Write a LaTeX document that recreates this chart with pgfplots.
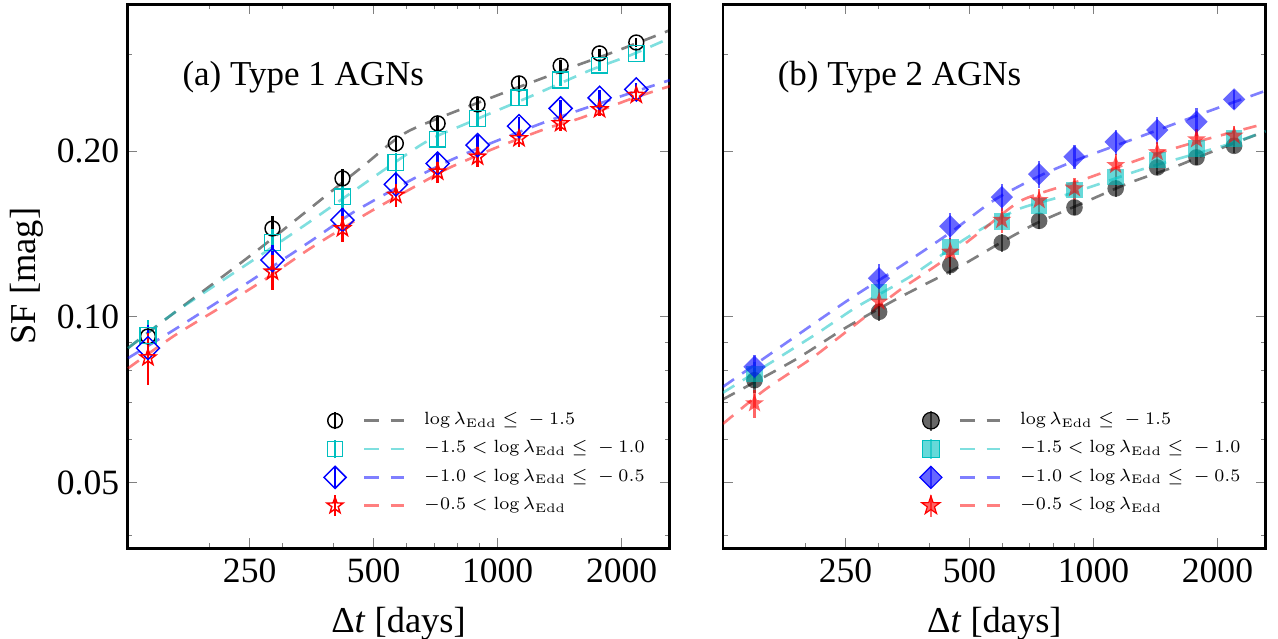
\documentclass[border=0pt]{standalone}
\usepackage{fix-cm}
\usepackage[no-math]{fontspec}
\setmainfont{Liberation Serif}
\usepackage{graphicx}
\usepackage{pgfplots}
\pgfplotsset{compat=1.18}

\definecolor{mcyan}{rgb}{0,0.75,0.75}

% five-pointed star like matplotlib's '*'
\pgfdeclareplotmark{fivestar}{%
  \pgfpathmoveto{\pgfqpointpolar{90}{\pgfplotmarksize}}%
  \pgfpathlineto{\pgfqpointpolar{126}{0.4\pgfplotmarksize}}%
  \pgfpathlineto{\pgfqpointpolar{162}{\pgfplotmarksize}}%
  \pgfpathlineto{\pgfqpointpolar{198}{0.4\pgfplotmarksize}}%
  \pgfpathlineto{\pgfqpointpolar{234}{\pgfplotmarksize}}%
  \pgfpathlineto{\pgfqpointpolar{270}{0.4\pgfplotmarksize}}%
  \pgfpathlineto{\pgfqpointpolar{306}{\pgfplotmarksize}}%
  \pgfpathlineto{\pgfqpointpolar{342}{0.4\pgfplotmarksize}}%
  \pgfpathlineto{\pgfqpointpolar{18}{\pgfplotmarksize}}%
  \pgfpathlineto{\pgfqpointpolar{54}{0.4\pgfplotmarksize}}%
  \pgfpathclose
  \pgfusepathqfillstroke}

% legend picture: marker with error bar (#2), then two dashes in colour #1
\newcommand{\legpic}[2]{%
  \path[draw=none, fill=none] (-5pt,-4.5pt) rectangle (28.6pt,4.5pt);
  \draw[#1, draw opacity=0.5, line width=0.9pt, dash pattern=on 5pt off 4pt] (10.1pt,0pt) -- (23.8pt,0pt);
  #2}
\newcommand{\legtxt}[1]{\scalebox{0.81}{\fontsize{7.5}{9}\selectfont #1}}

\pgfplotsset{
  fitline/.style={draw opacity=0.5, line width=0.9pt,
    dash pattern=on 4.6pt off 3.4pt, smooth, tension=0.4, forget plot},
  openpt/.style={only marks,
    error bars/y dir=both, error bars/y explicit, error bars/error mark=none,
    error bars/error bar style={line width=0.8pt}},
  fillpt/.style={only marks,
    error bars/y dir=both, error bars/y explicit, error bars/error mark=none,
    error bars/error bar style={line width=0.8pt, opacity=0.6}},
}

\begin{document}
\begin{tikzpicture}
% ---------------- (a) Type 1 ----------------
\begin{axis}[
    xmode=log, ymode=log, scale only axis,
    width=186.2pt, height=186.6pt,
    xmin=126, xmax=2620, ymin=0.038, ymax=0.37,
    xtick={250,500,1000,2000}, xticklabels={250,500,1000,2000},
    minor xtick={200,300,400,600,700,800,900},
    ytick={0.05,0.1,0.2}, yticklabels={0.05,0.10,0.20},
    minor ytick={0.04,0.06,0.07,0.08,0.09,0.3},
    tick align=inside,
    major tick length=3.4pt, minor tick length=1.8pt,
    axis line style={line width=1pt},
    tick label style={font=\fontsize{12.2}{14}\selectfont},
    yticklabel style={xshift=0.8pt},
    xlabel={Δ\textit{t} [days]},
    ylabel={SF [mag]},
    xlabel style={font=\fontsize{12.5}{15}\selectfont, at={(axis description cs:0.5,-0.14)}, anchor=center},
    ylabel style={font=\fontsize{12.5}{15}\selectfont, at={(axis description cs:-0.185,0.5)}, anchor=center},
    legend cell align=left,
    legend style={at={(axis description cs:0.339,0.156)}, anchor=west,
      draw=none, fill=none, font=\fontsize{7.5}{9}\selectfont},
]

\addplot[fitline, black] coordinates {(126.6,0.0877) (163.7,0.1016) (263.1,0.1327) (467.7,0.1870) (608,0.2175) (1016,0.2539) (1250,0.2692) (1562,0.2866) (1910,0.3026) (2443,0.3249) (2620,0.3318)};
\addplot[fitline, mcyan] coordinates {(126.6,0.0877) (163.7,0.1016) (261.6,0.1284) (346,0.148) (650.2,0.2051) (845.4,0.2249) (1222,0.2528) (1680,0.2807) (2103,0.2988) (2620,0.3209)};
\addplot[fitline, blue] coordinates {(126.6,0.0841) (166.5,0.0954) (244.6,0.1147) (346,0.1361) (447.3,0.155) (615,0.1771) (769,0.1926) (977.5,0.2077) (1343,0.2277) (2066,0.2539) (2620,0.2692)};
\addplot[fitline, red] coordinates {(126.6,0.0806) (163.7,0.0923) (212.8,0.1041) (270.7,0.1166) (351.8,0.1333) (483.6,0.1543) (661.2,0.176) (769,0.187) (999.6,0.2034) (1322,0.2202) (1589,0.2296) (2066,0.2475) (2620,0.2625)};

\addplot[openpt, black, mark=o, mark size=2.55pt, mark options={line width=0.5pt},
  legend image code/.code={\legpic{black}{\draw[black, line width=0.5pt] (0pt,0pt) circle (2.5pt);
    \draw[black, line width=0.8pt] (0pt,-3pt) -- (0pt,3pt);}}] coordinates {
 (141.6,0.0921) +- (0,0.005) (284,0.1447) +- (0,0.008) (420,0.1784) +- (0,0.007)
 (566,0.2065) +- (0,0.007) (715,0.2246) +- (0,0.007) (894,0.2432) +- (0,0.007)
 (1127,0.2655) +- (0,0.007) (1422,0.2858) +- (0,0.007) (1768,0.3010) +- (0,0.006)
 (2171,0.3151) +- (0,0.006)};
\addlegendentry{\legtxt{$\log\lambda_{\mathrm{Edd}}\leq{}-{}1.5$}}
\addplot[openpt, mcyan, mark=square, mark size=2.7pt, mark options={line width=0.5pt},
  legend image code/.code={\legpic{mcyan}{\draw[mcyan, line width=0.5pt] (-2.6pt,-2.6pt) rectangle (2.6pt,2.6pt);
    \draw[mcyan, line width=0.8pt] (0pt,-3.2pt) -- (0pt,3.2pt);}}] coordinates {
 (141.6,0.0925) +- (0,0.006) (284,0.1365) +- (0,0.008) (420,0.1652) +- (0,0.008)
 (566,0.1908) +- (0,0.008) (715,0.2103) +- (0,0.007) (894,0.2293) +- (0,0.007)
 (1127,0.2500) +- (0,0.007) (1422,0.2692) +- (0,0.007) (1768,0.2866) +- (0,0.007)
 (2171,0.3010) +- (0,0.007)};
\addlegendentry{\legtxt{$-1.5<\log\lambda_{\mathrm{Edd}}\leq{}-{}1.0$}}
\addplot[openpt, blue, mark=square, mark size=2.8pt, mark options={rotate=45, line width=0.5pt},
  legend image code/.code={\legpic{blue}{\draw[blue, line width=0.5pt] (0pt,3.8pt) -- (3.8pt,0pt) -- (0pt,-3.8pt) -- (-3.8pt,0pt) -- cycle;
    \draw[blue, line width=0.8pt] (0pt,-3.6pt) -- (0pt,3.6pt);}}] coordinates {
 (141.6,0.0877) +- (0,0.009) (284,0.1268) +- (0,0.008) (420,0.1499) +- (0,0.008)
 (566,0.1740) +- (0,0.008) (715,0.1899) +- (0,0.009) (894,0.2051) +- (0,0.009)
 (1127,0.2220) +- (0,0.009) (1422,0.2391) +- (0,0.009) (1768,0.2500) +- (0,0.008)
 (2171,0.2589) +- (0,0.007)};
\addlegendentry{\legtxt{$-1.0<\log\lambda_{\mathrm{Edd}}\leq{}-{}0.5$}}
\addplot[openpt, red, mark=fivestar, mark size=2.9pt, mark options={fill opacity=0, line width=0.5pt},
  legend image code/.code={\legpic{red}{\draw[red, line width=0.5pt] (90:2.9pt) -- (126:1.16pt) -- (162:2.9pt) -- (198:1.16pt) -- (234:2.9pt) -- (270:1.16pt) -- (306:2.9pt) -- (342:1.16pt) -- (18:2.9pt) -- (54:1.16pt) -- cycle;
    \draw[red, line width=0.8pt] (0pt,-3.6pt) -- (0pt,3.6pt);}}] coordinates {
 (141.6,0.0843) +- (0,0.009) (284,0.1207) +- (0,0.009) (420,0.1447) +- (0,0.008)
 (566,0.1664) +- (0,0.008) (715,0.1834) +- (0,0.008) (894,0.1953) +- (0,0.008)
 (1127,0.2109) +- (0,0.007) (1422,0.2246) +- (0,0.007) (1768,0.2381) +- (0,0.006)
 (2171,0.2528) +- (0,0.006)};
\addlegendentry{\legtxt{$-0.5<\log\lambda_{\mathrm{Edd}}$}}

\node[anchor=base west, inner sep=0pt, font=\fontsize{12}{14}\selectfont] at (rel axis cs:0.101,0.851) {(a) Type 1 AGNs};
\end{axis}

% ---------------- (b) Type 2 ----------------
\begin{axis}[
    xshift=204.4pt,
    xmode=log, ymode=log, scale only axis,
    width=186.2pt, height=186.6pt,
    xmin=126, xmax=2620, ymin=0.038, ymax=0.37,
    xtick={250,500,1000,2000}, xticklabels={250,500,1000,2000},
    minor xtick={200,300,400,600,700,800,900},
    ytick={0.05,0.1,0.2}, yticklabels={},
    minor ytick={0.04,0.06,0.07,0.08,0.09,0.3},
    tick align=inside,
    major tick length=3.4pt, minor tick length=1.8pt,
    axis line style={line width=1pt},
    tick label style={font=\fontsize{12.2}{14}\selectfont},
    xlabel={Δ\textit{t} [days]},
    xlabel style={font=\fontsize{12.5}{15}\selectfont, at={(axis description cs:0.5,-0.14)}, anchor=center},
    legend cell align=left,
    legend style={at={(axis description cs:0.339,0.156)}, anchor=west,
      draw=none, fill=none, font=\fontsize{7.5}{9}\selectfont},
]

\addplot[fitline, black] coordinates {(126,0.0708) (188.4,0.0835) (248.9,0.0953) (323.4,0.1065) (371.8,0.1125) (472.6,0.1233) (590.8,0.1359) (725.8,0.1478) (938,0.1607) (1219,0.1750) (1611,0.1885) (1873,0.1975) (2620,0.2174)};
\addplot[fitline, mcyan] coordinates {(126,0.0728) (210.5,0.0927) (266.1,0.1042) (357.6,0.1181) (491.3,0.139) (649.4,0.1563) (811.7,0.1644) (1014,0.1735) (1341,0.1863) (2094,0.2051) (2620,0.2174)};
\addplot[fitline, blue] coordinates {(126,0.0746) (207.1,0.0966) (260.2,0.1086) (338.3,0.1232) (447.1,0.1419) (574.3,0.163) (738.2,0.1802) (922.6,0.1934) (1289,0.2121) (1936,0.2374) (2620,0.2575)};
\addplot[fitline, red] coordinates {(126,0.0639) (159.3,0.0737) (207.1,0.0841) (263.2,0.0966) (338.3,0.1118) (422.8,0.1251) (537.3,0.1437) (671.6,0.163) (938,0.1772) (1341,0.195) (1771,0.2077) (2620,0.2245)};

\addplot[fillpt, black, mark=*, mark size=2.85pt, mark options={draw opacity=0, fill opacity=0.6},
  legend image code/.code={\legpic{black}{\fill[black, fill opacity=0.6] (0pt,0pt) circle (2.85pt);
    \draw[black, opacity=0.6, line width=0.8pt] (0pt,-3.4pt) -- (0pt,3.4pt);}}] coordinates {
 (150.3,0.0767) +- (0,0.004) (301.6,0.1021) +- (0,0.004) (449,0.1241) +- (0,0.005)
 (599,0.1363) +- (0,0.005) (738,0.1494) +- (0,0.005) (899,0.1580) +- (0,0.005)
 (1132,0.1711) +- (0,0.006) (1428,0.1868) +- (0,0.006) (1779,0.1948) +- (0,0.006)
 (2195,0.2045) +- (0,0.006)};
\addlegendentry{\legtxt{$\log\lambda_{\mathrm{Edd}}\leq{}-{}1.5$}}
\addplot[fillpt, mcyan, mark=square*, mark size=2.85pt, mark options={draw opacity=0, fill opacity=0.6},
  legend image code/.code={\legpic{mcyan}{\fill[mcyan, fill opacity=0.6] (-2.85pt,-2.85pt) rectangle (2.85pt,2.85pt);
    \draw[mcyan, opacity=0.6, line width=0.8pt] (0pt,-3.4pt) -- (0pt,3.4pt);}}] coordinates {
 (150.3,0.0787) +- (0,0.004) (301.6,0.1110) +- (0,0.005) (449,0.1340) +- (0,0.005)
 (599,0.1488) +- (0,0.005) (738,0.1589) +- (0,0.006) (899,0.1699) +- (0,0.006)
 (1132,0.1796) +- (0,0.006) (1428,0.1926) +- (0,0.006) (1779,0.2023) +- (0,0.007)
 (2195,0.2109) +- (0,0.007)};
\addlegendentry{\legtxt{$-1.5<\log\lambda_{\mathrm{Edd}}\leq{}-{}1.0$}}
\addplot[fillpt, blue, mark=square*, mark size=2.7pt, mark options={rotate=45, draw opacity=0, fill opacity=0.6},
  legend image code/.code={\legpic{blue}{\fill[blue, fill opacity=0.6] (0pt,3.8pt) -- (3.8pt,0pt) -- (0pt,-3.8pt) -- (-3.8pt,0pt) -- cycle;
    \draw[blue, opacity=0.6, line width=0.8pt] (0pt,-3.6pt) -- (0pt,3.6pt);}}] coordinates {
 (150.3,0.0811) +- (0,0.004) (301.6,0.1175) +- (0,0.007) (449,0.1461) +- (0,0.008)
 (599,0.1650) +- (0,0.009) (738,0.1817) +- (0,0.010) (899,0.1953) +- (0,0.010)
 (1132,0.2079) +- (0,0.011) (1428,0.2184) +- (0,0.012) (1779,0.2261) +- (0,0.013)
 (2195,0.2483) +- (0,0.010)};
\addlegendentry{\legtxt{$-1.0<\log\lambda_{\mathrm{Edd}}\leq{}-{}0.5$}}
\addplot[fillpt, red, mark=fivestar, mark size=3.4pt, mark options={draw opacity=0, fill opacity=0.6},
  legend image code/.code={\legpic{red}{\fill[red, fill opacity=0.6] (90:3.3pt) -- (126:1.3pt) -- (162:3.3pt) -- (198:1.3pt) -- (234:3.3pt) -- (270:1.3pt) -- (306:3.3pt) -- (342:1.3pt) -- (18:3.3pt) -- (54:1.3pt) -- cycle;
    \draw[red, opacity=0.6, line width=0.8pt] (0pt,-3.8pt) -- (0pt,3.8pt);}}] coordinates {
 (150.3,0.0696) +- (0,0.004) (301.6,0.1065) +- (0,0.006) (449,0.1312) +- (0,0.008)
 (599,0.1499) +- (0,0.008) (738,0.1629) +- (0,0.008) (899,0.1711) +- (0,0.008)
 (1132,0.1886) +- (0,0.009) (1428,0.1990) +- (0,0.009) (1779,0.2100) +- (0,0.009)
 (2195,0.2133) +- (0,0.009)};
\addlegendentry{\legtxt{$-0.5<\log\lambda_{\mathrm{Edd}}$}}

\node[anchor=base west, inner sep=0pt, font=\fontsize{12}{14}\selectfont] at (rel axis cs:0.100,0.851) {(b) Type 2 AGNs};
\end{axis}

\pgfresetboundingbox
\path[use as bounding box] (-43.6pt,-31.2pt) rectangle (394.8pt,188pt);
\end{tikzpicture}
\end{document}
